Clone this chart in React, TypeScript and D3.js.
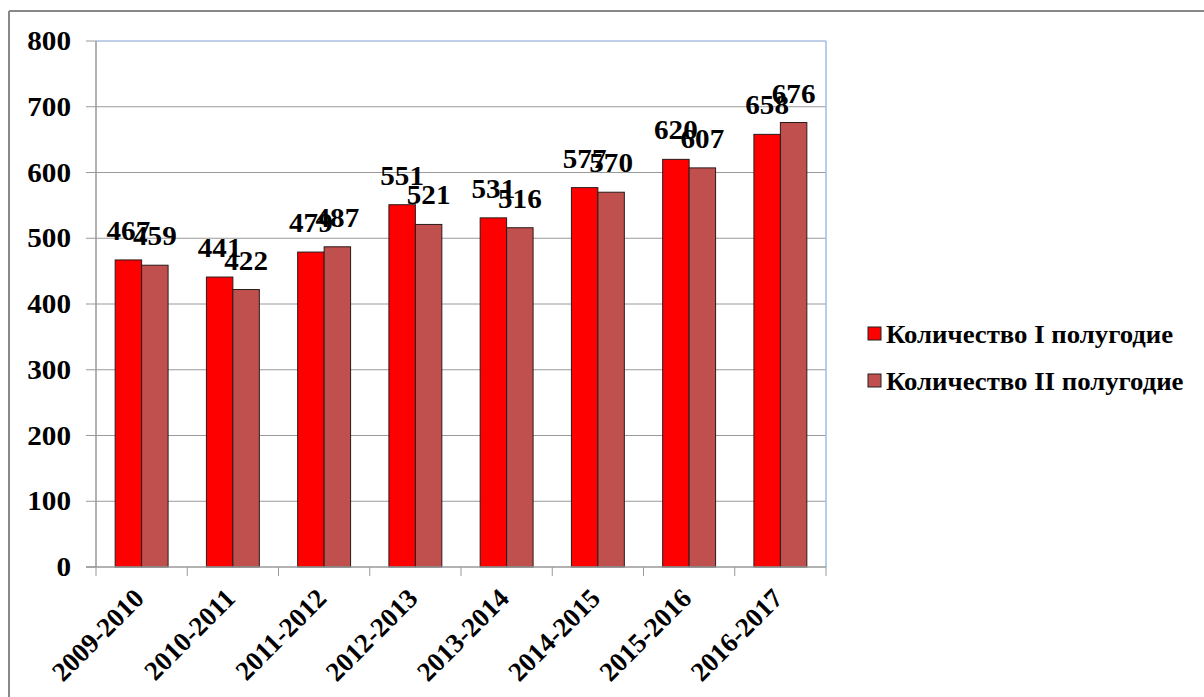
import React from "react";
import * as d3 from "d3";

const categories = ["2009-2010", "2010-2011", "2011-2012", "2012-2013", "2013-2014", "2014-2015", "2015-2016", "2016-2017"];
const series1 = [467, 441, 479, 551, 531, 577, 620, 658];
const series2 = [459, 422, 487, 521, 516, 570, 607, 676];
const seriesNames = ["Количество I полугодие", "Количество II полугодие"];
const seriesColors = ["#FF0000", "#C0504D"];
const yTicks = [0, 100, 200, 300, 400, 500, 600, 700, 800];

const W = 1204, H = 697;
const plot = { left: 96, right: 826, top: 41, bottom: 567 };
const FONT = '"Times New Roman", "Liberation Serif", "DejaVu Serif", serif';
const ts: React.CSSProperties = { fontFamily: FONT, fontWeight: 700 };

export default function App() {
  const x = d3.scaleBand<string>().domain(categories).range([plot.left, plot.right]).padding(0);
  const y = d3.scaleLinear().domain([0, 800]).range([plot.bottom, plot.top]);
  const bw = x.bandwidth();
  const groupW = bw * 0.58;
  const barW = groupW / 2;
  const all = [series1, series2];

  return (
    <svg width={W} height={H} style={{ position: "absolute", left: 0, top: 0, background: "#fff" }}>
      <rect x={0} y={0} width={W} height={H} fill="#fff" />
      {/* outer frame */}
      <line x1={9} y1={11} x2={W} y2={11} stroke="#888" strokeWidth={2} />
      <line x1={9} y1={11} x2={9} y2={H} stroke="#888" strokeWidth={2} />
      {/* gridlines */}
      {yTicks.filter((t) => t > 0 && t < 800).map((t) => (
        <line key={"g" + t} x1={plot.left} x2={plot.right} y1={y(t)} y2={y(t)} stroke="#9a9a9a" strokeWidth={1} />
      ))}
      {/* plot border top/right */}
      <line x1={plot.left} x2={plot.right} y1={y(800)} y2={y(800)} stroke="#7f9fcf" strokeWidth={1} />
      <line x1={plot.right} x2={plot.right} y1={plot.top} y2={plot.bottom} stroke="#9fbde6" strokeWidth={1.5} />
      {/* bars */}
      {all.map((s, si) =>
        s.map((v, i) => {
          const bx = (x(categories[i]) as number) + (bw - groupW) / 2 + si * barW;
          return (
            <rect key={`b${si}-${i}`} x={bx} y={y(v)} width={barW} height={y(0) - y(v)} fill={seriesColors[si]} stroke="#2a1a1a" strokeWidth={1} />
          );
        })
      )}
      {/* axes */}
      <line x1={plot.left} x2={plot.left} y1={plot.top} y2={plot.bottom} stroke="#999" strokeWidth={1.5} />
      <line x1={plot.left - 10} x2={plot.right} y1={plot.bottom} y2={plot.bottom} stroke="#999" strokeWidth={1.5} />
      {yTicks.map((t) => (
        <g key={"yt" + t}>
          <line x1={plot.left - 10} x2={plot.left} y1={y(t)} y2={y(t)} stroke="#999" strokeWidth={1} />
          <text transform={`translate(71,${y(t)}) scale(1.08,1)`} dy="0.34em" textAnchor="end" fontSize={27} style={ts} fill="#000">{t}</text>
        </g>
      ))}
      {categories.map((c, i) => (
        <line key={"xt" + i} x1={x(c)} x2={x(c)} y1={plot.bottom} y2={plot.bottom + 9} stroke="#999" strokeWidth={1} />
      ))}
      <line x1={plot.right} x2={plot.right} y1={plot.bottom} y2={plot.bottom + 9} stroke="#999" strokeWidth={1} />
      {categories.map((c, i) => {
        const cx = (x(c) as number) + bw / 2;
        return (
          <text key={"xl" + i} transform={`translate(${cx + 4},${600}) rotate(-45)`} textAnchor="end" fontSize={27} style={ts} fill="#000">{c}</text>
        );
      })}
      {/* data labels */}
      {all.map((s, si) =>
        s.map((v, i) => {
          const bx = (x(categories[i]) as number) + (bw - groupW) / 2 + si * barW + barW / 2;
          return (
            <text key={`l${si}-${i}`} transform={`translate(${bx},${y(v) - 20}) scale(1.04,1)`} textAnchor="middle" fontSize={28} style={ts} fill="#000">{v}</text>
          );
        })
      )}
      {/* legend */}
      {seriesNames.map((n, i) => (
        <g key={"lg" + i} transform={`translate(868,${334 + i * 47})`}>
          <rect x={0} y={-7} width={13} height={13} fill={seriesColors[i]} stroke="#222" strokeWidth={1} />
          <text transform="translate(18,0) scale(1.03,1)" dy="0.35em" fontSize={26} style={ts} fill="#000">{n}</text>
        </g>
      ))}
    </svg>
  );
}
